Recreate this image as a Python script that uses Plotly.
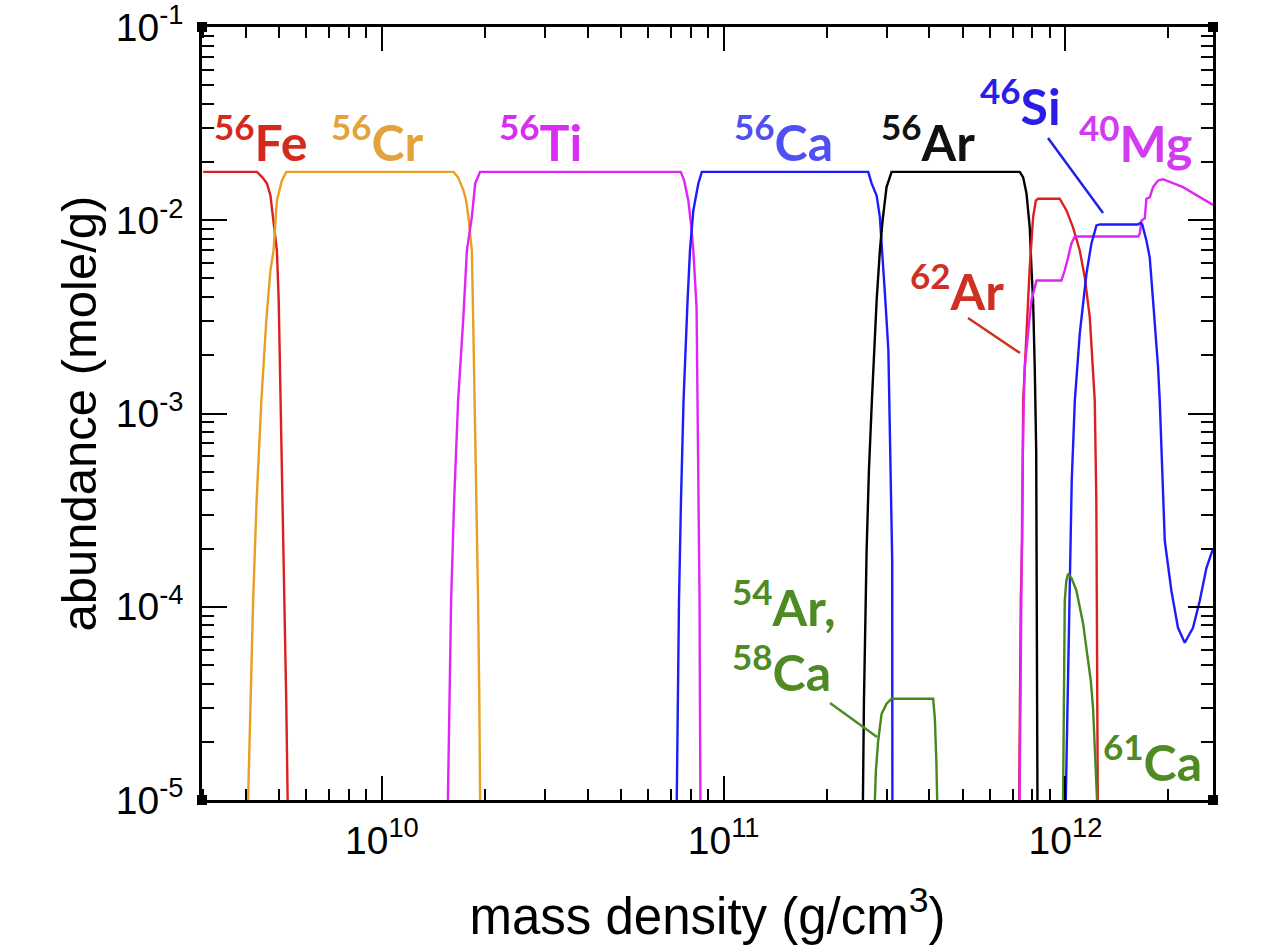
import plotly.graph_objects as go

# ---------------- data (mass density g/cm^3, abundance mole/g) ----------------
fe56_x = [3.0e9, 4.31e9, 4.47e9, 4.61e9, 4.72e9, 4.77e9, 4.84e9, 4.93e9, 4.99e9, 5.06e9, 5.13e9, 5.20e9, 5.25e9, 5.30e9]
fe56_y = [0.0178, 0.0178, 0.01667, 0.01551, 0.01343, 0.01124, 0.00907, 0.00698, 0.00384, 0.001166, 3.54e-4, 1.07e-4, 3.26e-5, 1e-5]

cr56_x = [4.06e9, 4.12e9, 4.20e9, 4.30e9, 4.44e9, 4.59e9, 4.72e9, 4.82e9, 4.93e9, 5.10e9, 5.25e9,
          1.62e10, 1.671e10, 1.732e10, 1.764e10, 1.792e10, 1.833e10, 1.847e10, 1.868e10, 1.893e10, 1.912e10, 1.928e10, 1.938e10]
cr56_y = [1e-5, 3.26e-5, 1.07e-4, 3.54e-4, 1.166e-3, 3.03e-3, 5.5e-3, 6.98e-3, 1.266e-2, 1.607e-2, 0.0178,
          0.0178, 1.667e-2, 1.427e-2, 1.266e-2, 1.038e-2, 6.98e-3, 3.54e-3, 1.166e-3, 3.54e-4, 1.07e-4, 3.26e-5, 1e-5]

ti56_x = [1.560e10, 1.573e10, 1.594e10, 1.627e10, 1.671e10, 1.729e10, 1.773e10, 1.833e10, 1.875e10, 1.938e10,
          7.49e10, 7.66e10, 7.88e10, 8.03e10, 8.15e10, 8.33e10, 8.38e10, 8.46e10, 8.50e10, 8.52e10, 8.55e10]
ti56_y = [1e-5, 3.26e-5, 1.07e-4, 3.54e-4, 1.166e-3, 3.03e-3, 6.98e-3, 1.038e-2, 1.551e-2, 0.0178,
          0.0178, 1.607e-2, 1.266e-2, 9.4e-3, 6.98e-3, 3.54e-3, 1.166e-3, 3.54e-4, 1.07e-4, 3.26e-5, 1e-5]

ca56_x = [7.29e10, 7.33e10, 7.40e10, 7.50e10, 7.63e10, 7.84e10, 7.97e10, 8.15e10, 8.43e10, 8.63e10,
          2.648e11, 2.709e11, 2.802e11, 2.864e11, 2.897e11, 2.929e11, 2.972e11, 3.033e11, 3.064e11, 3.095e11, 3.112e11, 3.116e11]
ca56_y = [1e-5, 3.26e-5, 1.07e-4, 3.54e-4, 1.166e-3, 3.84e-3, 6.98e-3, 1.124e-2, 1.551e-2, 0.0178,
          0.0178, 1.551e-2, 1.343e-2, 1.038e-2, 7.86e-3, 5.5e-3, 3.84e-3, 2.12e-3, 9.19e-4, 3.54e-4, 1.73e-4, 1e-5]

ar56_x = [2.555e11, 2.572e11, 2.619e11, 2.660e11, 2.714e11, 2.802e11, 2.864e11, 2.917e11, 2.996e11, 3.099e11,
          7.35e11, 7.52e11, 7.69e11, 7.86e11, 7.95e11, 8.04e11, 8.13e11, 8.21e11, 8.24e11, 8.28e11]
ar56_y = [1e-5, 3.15e-5, 1.95e-4, 5.06e-4, 1.166e-3, 3.84e-3, 6.98e-3, 9.98e-3, 1.484e-2, 0.0178,
          0.0178, 1.667e-2, 1.376e-2, 9.18e-3, 5.7e-3, 3.84e-3, 1.73e-3, 6.42e-4, 1.07e-4, 1e-5]

ar54_ca58_x = [2.769e11, 2.788e11, 2.831e11, 2.897e11, 2.996e11, 3.099e11, 4.10e11, 4.147e11, 4.19e11, 4.213e11]
ar54_ca58_y = [1e-5, 1.415e-5, 2.02e-5, 2.79e-5, 3.15e-5, 3.34e-5, 3.34e-5, 2.66e-5, 1.59e-5, 1e-5]

ar62_x = [7.32e11, 7.35e11, 7.40e11, 7.47e11, 7.52e11, 7.69e11, 7.86e11, 8.04e11, 8.19e11, 8.32e11,
          9.62e11, 1.0067e12, 1.052e12, 1.101e12, 1.139e12, 1.178e12, 1.204e12, 1.218e12, 1.231e12, 1.237e12, 1.243e12]
ar62_y = [1e-5, 3.26e-5, 1.07e-4, 2.2e-4, 1.166e-3, 2.59e-3, 5.7e-3, 1.038e-2, 1.266e-2, 1.292e-2,
          1.292e-2, 1.124e-2, 9.18e-3, 6.98e-3, 5.05e-3, 3.14e-3, 1.73e-3, 1.166e-3, 3.54e-4, 1.07e-4, 1e-5]

mg40_x = [7.34e11, 7.38e11, 7.42e11, 7.48e11, 7.55e11, 7.60e11, 7.77e11, 7.95e11, 8.13e11, 8.23e11,
          9.73e11, 9.95e11, 1.0177e12, 1.041e12, 1.065e12, 1.631e12, 1.650e12, 1.669e12, 1.706e12, 1.725e12,
          1.764e12, 1.804e12, 1.866e12, 1.929e12, 2.208e12, 2.702e12]
mg40_y = [1e-5, 3.26e-5, 1.07e-4, 4.49e-4, 1.166e-3, 1.73e-3, 2.59e-3, 3.84e-3, 4.49e-3, 4.88e-3,
          4.88e-3, 5.5e-3, 6.42e-3, 7.59e-3, 8.24e-3, 8.24e-3, 8.54e-3, 9.98e-3, 1.022e-2, 1.292e-2,
          1.312e-2, 1.484e-2, 1.607e-2, 1.63e-2, 1.484e-2, 1.2e-2]

si46_x = [1.002e12, 1.0088e12, 1.0177e12, 1.029e12, 1.034e12, 1.043e12, 1.054e12, 1.065e12, 1.101e12, 1.126e12,
          1.152e12, 1.191e12, 1.232e12, 1.260e12, 1.627e12, 1.657e12, 1.677e12, 1.725e12, 1.764e12, 1.804e12,
          1.866e12, 1.887e12, 1.919e12, 1.952e12, 2.041e12, 2.134e12, 2.233e12, 2.361e12, 2.470e12, 2.585e12, 2.702e12]
si46_y = [1e-5, 2.02e-5, 4.5e-5, 1.11e-4, 2.2e-4, 4.49e-4, 7.24e-4, 1.166e-3, 2.59e-3, 3.84e-3,
          5.3e-3, 7.59e-3, 9.4e-3, 9.51e-3, 9.51e-3, 9.68e-3, 9.51e-3, 7.86e-3, 6.42e-3, 3.84e-3,
          1.73e-3, 1.166e-3, 5.06e-4, 2.2e-4, 1.21e-4, 7.78e-5, 6.51e-5, 7.78e-5, 1.07e-4, 1.59e-4, 2.0e-4]

ca61_x = [9.84e11, 9.89e11, 9.92e11, 9.95e11, 1.0054e12, 1.0177e12, 1.043e12, 1.077e12, 1.126e12, 1.164e12,
          1.186e12, 1.204e12, 1.218e12, 1.229e12, 1.237e12]
ca61_y = [1e-5, 4.5e-5, 6.67e-5, 1.07e-4, 1.36e-4, 1.48e-4, 1.40e-4, 1.21e-4, 8.17e-5, 5.44e-5,
          4.14e-5, 3.0e-5, 2.02e-5, 1.415e-5, 1e-5]

x_major = [1e10, 1e11, 1e12]
x_major_text = ["10<sup>10</sup>", "10<sup>11</sup>", "10<sup>12</sup>"]
y_major = [1e-5, 1e-4, 1e-3, 1e-2, 1e-1]
y_major_text = ["10<sup>-5</sup>", "10<sup>-4</sup>", "10<sup>-3</sup>", "10<sup>-2</sup>", "10<sup>-1</sup>"]

# ---------------- styling ----------------
RED = "#dc2020"
ORANGE = "#e8a024"
MAGENTA = "#e024f8"
BLUE = "#1c1cff"
BLACK = "#000000"
GREEN = "#45881c"

W, H = 1271, 952
PL, PR, PT, PB = 202, 1213, 27, 800   # plot area in page pixels


def px(x):
    return (x - PL) / (PR - PL)


def py(y):
    return (PB - y) / (PB - PT)


fig = go.Figure()
series = [
    (fe56_x, fe56_y, RED), (cr56_x, cr56_y, ORANGE), (ti56_x, ti56_y, MAGENTA),
    (ca56_x, ca56_y, BLUE), (ar56_x, ar56_y, BLACK), (ar54_ca58_x, ar54_ca58_y, GREEN),
    (ar62_x, ar62_y, RED), (mg40_x, mg40_y, MAGENTA), (si46_x, si46_y, BLUE),
    (ca61_x, ca61_y, GREEN),
]
for xs, ys, c in series:
    fig.add_trace(go.Scatter(x=xs, y=ys, mode="lines", line=dict(color=c, width=2.4),
                             showlegend=False, hoverinfo="skip"))

# minor ticks
x_minor = [m * 10 ** e for e in range(9, 13) for m in range(2, 10) if 3e9 <= m * 10 ** e <= 2.7e12]
y_minor = [m * 10 ** e for e in range(-5, -1) for m in range(2, 10)]

TF = "Liberation Sans, Arial"
fig.update_xaxes(type="log", range=[9.4737, 12.4316], tickvals=x_major, ticktext=x_major_text,
                 ticks="inside", ticklen=24, tickwidth=2, tickcolor="black",
                 showline=True, linecolor="black", linewidth=2.5, mirror="allticks",
                 showgrid=False, zeroline=False, ticklabelstandoff=4, automargin=False,
                 minor=dict(tickvals=x_minor, ticks="inside", ticklen=11, tickwidth=2, tickcolor="black", showgrid=False),
                 tickfont=dict(family=TF, size=39, color="black"),
                 title=dict(text="mass density (g/cm<sup>3</sup>)", standoff=38,
                            font=dict(family=TF, size=51, color="black")))
fig.update_yaxes(type="log", range=[-5, -1], tickvals=y_major, ticktext=y_major_text,
                 ticks="inside", ticklen=25, tickwidth=2, tickcolor="black",
                 showline=True, linecolor="black", linewidth=2.5, mirror="allticks",
                 showgrid=False, zeroline=False, ticklabelstandoff=8, ticklabeloverflow="allow",
                 automargin=False,
                 minor=dict(tickvals=y_minor, ticks="inside", ticklen=12, tickwidth=2, tickcolor="black", showgrid=False),
                 tickfont=dict(family=TF, size=39, color="black"),
                 title=dict(text="abundance (mole/g)", standoff=4,
                            font=dict(family=TF, size=49, color="black")))

LF = "Lato, Open Sans, sans-serif"
labels = [
    ("Fe", 260, 138, "#d42a1e", "56"),
    ("Cr", 377, 138, "#e2a23c", "56"),
    ("Ti", 540, 138, "#d82ef2", "56"),
    ("Ca", 783, 138, "#5050f2", "56"),
    ("Ar", 928, 138, "#111111", "56"),
    ("Si", 1020, 103, "#2a1ee6", "46"),
    ("Mg", 1135, 140, "#d23cf0", "40"),
    ("Ar", 957, 288, "#d03022", "62"),
    ("Ca", 1152, 758, "#4e8b24", "61"),
]
annotations = []
for sym, cx, cy, col, mass in labels:
    annotations.append(dict(text=f"<b><sup>{mass}</sup>{sym}</b>", x=px(cx), y=py(cy), xref="paper", yref="paper",
                            xanchor="center", yanchor="middle", showarrow=False,
                            font=dict(family=LF, size=50, color=col)))
annotations.append(dict(text="<b><sup>54</sup>Ar,</b><br><b><sup>58</sup>Ca</b>", x=px(730), y=py(636),
                        xref="paper", yref="paper", xanchor="left", yanchor="middle", align="left",
                        showarrow=False, font=dict(family=LF, size=50, color="#4e8b24")))

shapes = [
    dict(type="line", xref="paper", yref="paper", x0=px(1048), y0=py(138), x1=px(1103), y1=py(213),
         line=dict(color="#2020e8", width=2.5)),
    dict(type="line", xref="paper", yref="paper", x0=px(968), y0=py(318), x1=px(1020), y1=py(353),
         line=dict(color="#d03022", width=2.5)),
    dict(type="line", xref="paper", yref="paper", x0=px(830), y0=py(703), x1=px(877), y1=py(737),
         line=dict(color="#4e8b24", width=2.5)),
]
# corner markers
for cx, cy in [(PL, PT), (PR, PT), (PL, PB), (PR, PB)]:
    shapes.append(dict(type="rect", xref="paper", yref="paper", x0=px(cx - 5), x1=px(cx + 5),
                       y0=py(cy + 5), y1=py(cy - 5), fillcolor="black", line=dict(width=0)))

fig.update_layout(width=W, height=H,
                  margin=dict(l=PL, r=W - PR, t=PT, b=H - PB),
                  plot_bgcolor="white", paper_bgcolor="white",
                  annotations=annotations, shapes=shapes)
fig.write_html("out.html", config={"displayModeBar": False},
               post_script="document.body.style.margin='0px';document.body.style.overflow='hidden';")
